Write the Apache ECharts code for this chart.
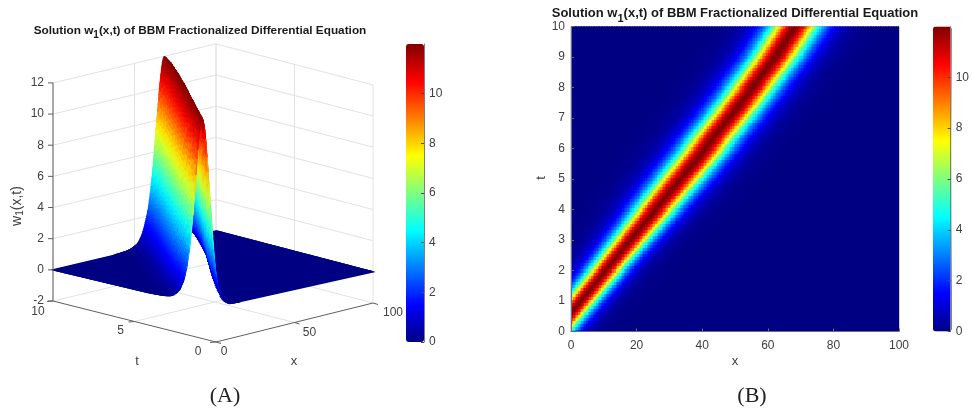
<!DOCTYPE html>
<html><head><meta charset="utf-8">
<style>html,body{margin:0;padding:0;background:#fff}#c{width:972px;height:412px}</style>
<script src="https://cdn.jsdelivr.net/npm/echarts@6/dist/echarts.min.js"></script>
</head><body><div id="c"></div>
<script>
// Cross-section of the wave: w at distance 0, 0.25, 0.5, ... from the crest (x units)
const crossSection = [12.0,11.98,11.94,11.85,11.75,11.6,11.43,11.23,11.0,10.75,10.5,10.21,9.92,9.6,9.29,8.95,8.61,8.28,7.93,7.6,7.25,6.92,6.58,6.26,5.94,5.64,5.34,5.05,4.77,4.5,4.24,4.0,3.76,3.54,3.33,3.12,2.92,2.73,2.56,2.4,2.25,2.1,1.96,1.84,1.72,1.61,1.49,1.39,1.3,1.21,1.13,1.05,0.98,0.91,0.85,0.79,0.74,0.69,0.64,0.59,0.55,0.51,0.47,0.44,0.41,0.38,0.35,0.325,0.30,0.28,0.26,0.24,0.225,0.21,0.195,0.18,0.17,0.157,0.145,0.135,0.125,0.117,0.11,0.10,0.095,0.087,0.08,0.075,0.07,0.065,0.06,0.055,0.05,0.047,0.045,0.042,0.04,0.037,0.035,0.032,0.03,0.027,0.025,0.022,0.02,0.02,0.02,0.017,0.015,0.015,0.015,0.012,0.01];
// Crest position x for t = 0, 0.1, 0.2 ... 10
const crestX = [-4.6,-3.84,-3.08,-2.32,-1.56,-0.8,-0.04,0.72,1.48,2.24,3.0,
3.76,4.52,5.28,6.04,6.8,7.56,8.32,9.08,9.84,10.6,
11.36,12.12,12.88,13.64,14.4,15.16,15.92,16.68,17.44,18.2,
18.96,19.72,20.48,21.24,22.0,22.76,23.52,24.28,25.04,25.8,
26.56,27.32,28.08,28.84,29.6,30.36,31.12,31.88,32.64,33.4,
34.16,34.92,35.68,36.44,37.2,37.94,38.68,39.42,40.16,40.9,
41.64,42.38,43.12,43.86,44.6,45.34,46.08,46.82,47.56,48.3,
49.01,49.72,50.43,51.14,51.85,52.56,53.27,53.98,54.69,55.4,
56.1,56.8,57.5,58.2,58.9,59.6,60.3,61,61.7,62.4,
62.99,63.58,64.17,64.76,65.35,65.94,66.53,67.12,67.71,68.3];
// Relative band width for the same t rows
const bandWidth = [.70,.70,.70,.70,.71,.71,.71,.71,.72,.72,
.72,.72,.73,.73,.73,.735,.74,.74,.745,.75,
.75,.755,.76,.765,.77,.78,.79,.80,.805,.81,
.82,.83,.84,.85,.855,.86,.87,.88,.89,.895,
.90,.91,.92,.93,.935,.94,.95,.955,.96,.965,
.97,.975,.98,.985,.985,.99,.99,.995,.995,1.0,
1.0,1.0,1.0,1.0,1.0,1.005,1.005,1.005,1.005,1.01,
1.01,1.01,1.01,1.01,1.01,1.015,1.015,1.015,1.015,1.015,
1.02,1.02,1.02,1.02,1.02,1.025,1.025,1.025,1.025,1.025,
1.03,1.03,1.03,1.03,1.03,1.035,1.035,1.035,1.035,1.035,1.04];
const jet = ['#000083','#0000ff','#007fff','#00ffff','#7fff7f','#ffff00','#ff7f00','#ff0000','#800000'];
const zTicks = [-2,0,2,4,6,8,10,12];
const xTicks3D = [0,50,100];
const tTicks3D = [0,5,10];
const TITLE = '{a|Solution w}{s|1}{a|(x,t) of BBM Fractionalized Differential Equation}';

function w(x, ti) {
  const n = Math.round(Math.abs(x - crestX[ti]) / bandWidth[ti] * 4);
  return n < crossSection.length ? crossSection[n] : 0;
}
const heat = [];
for (let ti = 0; ti < crestX.length; ti++) for (let xi = 0; xi <= 200; xi++) heat.push([xi/2, ti/10, w(xi/2, ti)]);

// Facets, far to near: [x0, row, mean w, x1]; flat runs of a row are merged into one facet
const facets = [];
for (let ti = crestX.length - 2; ti >= 0; ti--) {
  let runEnd = null;
  for (let xi = 199; xi >= 0; xi--) {
    const x = xi/2, x2 = x+0.5;
    const m = (w(x,ti)+w(x2,ti)+w(x,ti+1)+w(x2,ti+1))/4;
    if (m === 0) { if (runEnd === null) runEnd = x2; continue; }
    if (runEnd !== null) { facets.push([x2, ti, 0, runEnd]); runEnd = null; }
    facets.push([x, ti, m, x2]);
  }
  if (runEnd !== null) facets.push([0, ti, 0, runEnd]);
}

// 3D view: floor corners at z=-2 (surface plane sits at a slightly nearer front corner)
const V = {F:[216,342], SF:[212,339], R:[373,303], L:[53,301], B:[216,262], zScale:15.58};
function projWith(F, x, t, z) {
  const a = x/100, b = t/10;
  const f = i => F[i]*(1-a)*(1-b) + V.R[i]*a*(1-b) + V.L[i]*(1-a)*b + V.B[i]*a*b;
  return [f(0), f(1) - (z+2)*V.zScale];
}
const proj = (x,t,z) => projWith(V.F,x,t,z);
const projS = (x,t,z) => projWith(V.SF,x,t,z);
const GRID = '#e2e2e2', AX = '#5f5f5f', TXT = '#404040', FONT = '"Liberation Sans",Arial,sans-serif';
function seg(a, b, color, api) {
  const p = api.coord(a), q = api.coord(b);
  return {type:'line', shape:{x1:p[0],y1:p[1],x2:q[0],y2:q[1]}, style:{stroke:color, lineWidth:1}};
}
function label(text, pt, api, align) {
  const p = api.coord(pt);
  return {type:'text', style:{text:String(text), x:p[0], y:p[1], fill:TXT, font:'12px '+FONT, align:align||'center', verticalAlign:'middle'}};
}
function wallsItem(params, api) {
  const ch = [];
  zTicks.forEach(z => {
    ch.push(seg(proj(0,10,z), proj(100,10,z), GRID, api));
    ch.push(seg(proj(100,10,z), proj(100,0,z), GRID, api));
  });
  xTicks3D.forEach(x => ch.push(seg(proj(x,10,-2), proj(x,10,12), GRID, api)));
  tTicks3D.forEach(t => ch.push(seg(proj(100,t,-2), proj(100,t,12), GRID, api)));
  ch.push(seg(proj(50,0,-2), proj(50,10,-2), GRID, api));
  ch.push(seg(proj(0,5,-2), proj(100,5,-2), GRID, api));
  return {type:'group', children:ch};
}
function axesItem(params, api) {
  const ch = [];
  ch.push(seg(proj(0,10,-2), proj(0,10,12), AX, api));
  ch.push(seg(proj(0,10,-2), proj(0,0,-2), AX, api));
  ch.push(seg(proj(0,0,-2), proj(100,0,-2), AX, api));
  zTicks.forEach(z => {
    const p = proj(0,10,z);
    ch.push(seg(p, [p[0]-5, p[1]], AX, api));
    ch.push(label(z, [p[0]-9, p[1]], api, 'right'));
  });
  const tOff = {0:[-18,10], 5:[-14,9], 10:[-15,11]};
  tTicks3D.forEach(t => {
    const p = proj(0,t,-2);
    ch.push(seg(p, [p[0]-6, p[1]+0.5], AX, api));
    ch.push(label(t, [p[0]+tOff[t][0], p[1]+tOff[t][1]], api));
  });
  const xOff = {0:[8,10], 50:[15,10], 100:[20,10]};
  xTicks3D.forEach(x => {
    const p = proj(x,0,-2);
    ch.push(seg(p, [p[0]+5, p[1]+1.5], AX, api));
    ch.push(label(x, [p[0]+xOff[x][0], p[1]+xOff[x][1]], api));
  });
  return {type:'group', children:ch};
}
function facetItem(params, api) {
  const x0 = api.value(0), ti = api.value(1), x1 = api.value(3), t0 = ti/10, t1 = (ti+1)/10;
  const pts = [
    projS(x0,t0,w(x0,ti)), projS(x1,t0,w(x1,ti)),
    projS(x1,t1,w(x1,ti+1)), projS(x0,t1,w(x0,ti+1))
  ].map(p => api.coord(p));
  const col = api.visual('color');
  return {type:'polygon', shape:{points:pts}, style:{fill:col, stroke:col, lineWidth: api.value(2) < 0.3 ? 1.3 : 0.7}};
}
function heatItem(params, api) {
  const x = api.value(0), t = api.value(1);
  const p = api.coord([x-0.25, t+0.05]), q = api.coord([x+0.25, t-0.05]);
  const sys = params.coordSys;
  const x0 = Math.max(Math.floor(p[0]), sys.x), y0 = Math.max(Math.floor(p[1]), sys.y);
  const x1 = Math.min(Math.ceil(q[0]), sys.x+sys.width), y1 = Math.min(Math.ceil(q[1]), sys.y+sys.height);
  return {type:'rect', shape:{x:x0, y:y0, width:x1-x0, height:y1-y0}, style:{fill:api.visual('color')}};
}
const chart = echarts.init(document.getElementById('c'), null, {renderer:'canvas'});
function rich(size, subSize, pad) {
  return {a:{fontFamily:FONT, fontWeight:'bold', fontSize:size, color:'#1a1a1a'},
          s:{fontFamily:FONT, fontWeight:'bold', fontSize:subSize, color:'#1a1a1a', verticalAlign:'bottom', padding:[pad,0,0,0]}};
}
function colorAxisGrid(gi) {
  return {
    y:{gridIndex:gi, type:'value', min:0, max:12, interval:2, position:'right', z:10,
       axisLine:{show:true, onZero:false, lineStyle:{color:'#7d7d7d'}},
       axisTick:{show:true, inside:true, length:3, lineStyle:{color:'#4a4a4a'}},
       axisLabel:{color:TXT, fontFamily:FONT, fontSize:12, margin:5, showMaxLabel:false},
       splitLine:{show:false}},
    x:{gridIndex:gi, type:'value', min:0, max:1, show:false}
  };
}
const cb1 = colorAxisGrid(2), cb2 = colorAxisGrid(3);
const heatAxis = {z:10, axisLine:{show:true, onZero:false, lineStyle:{color:'#6a6a8a'}},
  axisTick:{show:true, inside:true, length:3, lineStyle:{color:'#6a6a6a'}},
  axisLabel:{color:TXT, fontFamily:FONT, fontSize:12}, splitLine:{show:false}};
chart.setOption({
  animation:false,
  backgroundColor:'#fff',
  title:[
    {text:TITLE, left:195, top:16, textAlign:'center', textStyle:{rich:rich(11.8,10,9)}},
    {text:TITLE, left:730, top:-2, textAlign:'center', textStyle:{rich:rich(13,11,10)}}
  ],
  grid:[
    {left:0, top:0, width:972, height:412, show:false},
    {left:571, top:26.5, width:328, height:305, show:true, borderColor:'#a0a0c0', borderWidth:1, backgroundColor:'transparent'},
    {left:406, top:44, width:18, height:298},
    {left:933, top:26.5, width:18.7, height:305}
  ],
  xAxis:[
    {gridIndex:0, type:'value', min:0, max:972, show:false},
    Object.assign({gridIndex:1, type:'value', min:0, max:100, interval:20}, heatAxis, {axisLabel:{color:TXT, fontFamily:FONT, fontSize:12, margin:8}}),
    cb1.x, cb2.x
  ],
  yAxis:[
    {gridIndex:0, type:'value', min:0, max:412, inverse:true, show:false},
    Object.assign({gridIndex:1, type:'value', min:0, max:10, interval:1}, heatAxis, {axisLabel:{color:TXT, fontFamily:FONT, fontSize:12, margin:6}}),
    cb1.y, cb2.y
  ],
  visualMap:[
    {type:'continuous', seriesIndex:1, dimension:2, min:0, max:12, left:406, top:44, itemWidth:18, itemHeight:298, padding:0, calculable:false, hoverLink:false, text:['',''], inRange:{color:jet}},
    {type:'continuous', seriesIndex:3, dimension:2, min:0, max:12, left:933, top:26.5, itemWidth:18.7, itemHeight:305, padding:0, calculable:false, hoverLink:false, text:['',''], inRange:{color:jet}}
  ],
  series:[
    {type:'custom', name:'walls', xAxisIndex:0, yAxisIndex:0, z:1, silent:true, data:[[0,0]], renderItem:wallsItem, clip:false},
    {type:'custom', name:'surface', xAxisIndex:0, yAxisIndex:0, z:2, silent:true, progressive:0, data:facets, encode:{x:0,y:1}, renderItem:facetItem, clip:false},
    {type:'custom', name:'box', xAxisIndex:0, yAxisIndex:0, z:3, silent:true, data:[[0,0]], renderItem:axesItem, clip:false},
    {type:'custom', name:'w', xAxisIndex:1, yAxisIndex:1, z:2, silent:true, progressive:0, data:heat, encode:{x:0,y:1}, renderItem:heatItem}
  ],
  graphic:[
    {type:'text', x:137, y:361, style:{text:'t', fill:TXT, font:'13px '+FONT, align:'center', verticalAlign:'middle'}},
    {type:'text', x:294, y:361, style:{text:'x', fill:TXT, font:'13px '+FONT, align:'center', verticalAlign:'middle'}},
    {type:'text', x:735, y:361, style:{text:'x', fill:TXT, font:'13px '+FONT, align:'center', verticalAlign:'middle'}},
    {type:'text', x:541, y:178, rotation:Math.PI/2, style:{text:'t', fill:TXT, font:'13px '+FONT, align:'center', verticalAlign:'middle'}},
    {type:'text', x:17, y:206, rotation:Math.PI/2, style:{text:'{a|w}{s|1}{a|(x,t)}', align:'center', verticalAlign:'middle',
      rich:{a:{fontFamily:FONT, fontSize:14, fill:TXT, color:TXT}, s:{fontFamily:FONT, fontSize:10, fill:TXT, color:TXT, padding:[7,0,0,0]}}}},
    {type:'text', x:225, y:396, style:{text:'(A)', fill:'#222', font:'22px "Liberation Serif",serif', align:'center', verticalAlign:'middle'}},
    {type:'text', x:752, y:396, style:{text:'(B)', fill:'#222', font:'22px "Liberation Serif",serif', align:'center', verticalAlign:'middle'}}
  ]
});
</script></body></html>
